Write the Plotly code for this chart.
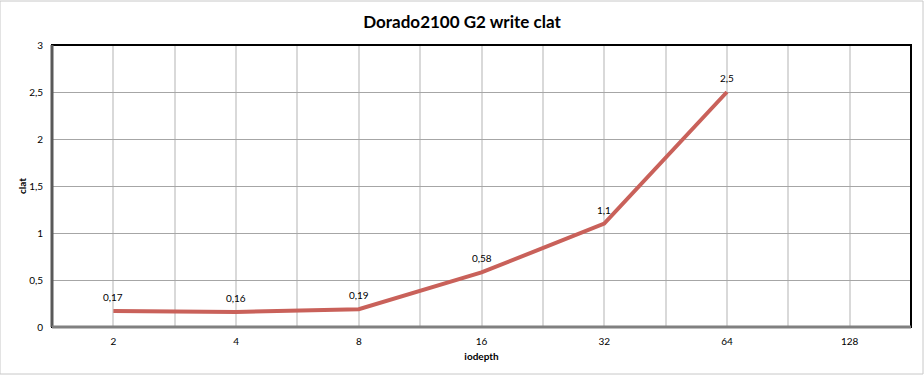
import plotly.graph_objects as go

categories = ["2", "4", "8", "16", "32", "64", "128"]
clat = [0.17, 0.16, 0.19, 0.58, 1.1, 2.5, None]
y_ticks = [0, 0.5, 1, 1.5, 2, 2.5, 3]

FONT = "Lato, Carlito, 'Open Sans', sans-serif"
n = len(categories)
xs = list(range(n))

fig = go.Figure()
fig.add_trace(go.Scatter(
    x=xs, y=clat, mode="lines",
    line=dict(color="#c9615a", width=4),
    connectgaps=False, hoverinfo="skip", showlegend=False,
))

for xi, v in zip(xs, clat):
    if v is None:
        continue
    fig.add_annotation(x=xi, y=v, text=str(v).replace(".", ","), showarrow=False,
                       yshift=14, font=dict(family=FONT, size=10, color="#000"))

fig.update_layout(
    width=924, height=375,
    margin=dict(l=52, r=13, t=45, b=48),
    paper_bgcolor="white", plot_bgcolor="white",
    separators=", ",
    title=dict(text="<b>Dorado2100 G2 write clat</b>", x=0.5, xanchor="center",
               y=1 - 22 / 375, yanchor="middle",
               font=dict(family=FONT, size=17, color="#000")),
    xaxis=dict(
        range=[-0.5, n - 0.5], tickvals=xs, ticktext=categories,
        showgrid=True, gridcolor="#d9d9d9", gridwidth=2,
        minor=dict(tickvals=[i + 0.5 for i in range(-1, n)], showgrid=True,
                   gridcolor="#d9d9d9", gridwidth=2),
        zeroline=False, showline=False, ticks="",
        ticklabelstandoff=7,
        tickfont=dict(family=FONT, size=10, color="#000"),
        title=dict(text="<b>iodepth</b>", standoff=6,
                   font=dict(family=FONT, size=10, color="#000")),
    ),
    yaxis=dict(
        range=[0, 3], tickvals=y_ticks,
        ticktext=[("%g" % t).replace(".", ",") for t in y_ticks],
        showgrid=True, gridcolor="#a6a6a6", gridwidth=1,
        zeroline=False, showline=False, ticks="", ticklen=0,
        ticklabelstandoff=8,
        tickfont=dict(family=FONT, size=10, color="#000"),
        title=dict(text="<b>clat</b>", standoff=0,
                   font=dict(family=FONT, size=10, color="#000")),
    ),
    shapes=[
        dict(type="rect", xref="paper", yref="paper", x0=0, x1=1, y0=0, y1=1,
             line=dict(color="#000", width=2), layer="above"),
        dict(type="line", xref="paper", yref="paper", x0=0, x1=0, y0=0, y1=1,
             line=dict(color="#595959", width=3), layer="above"),
        dict(type="line", xref="paper", yref="paper", x0=0, x1=1, y0=0, y1=0,
             line=dict(color="#808080", width=3), layer="above"),
        dict(type="rect", xref="paper", yref="paper",
             x0=-52 / (924 - 65), x1=1 + 12 / (924 - 65),
             y0=-47 / (375 - 93), y1=1 + 44 / (375 - 93),
             line=dict(color="#c8c8c8", width=1), layer="below"),
    ],
)

fig.write_html("out.html")
